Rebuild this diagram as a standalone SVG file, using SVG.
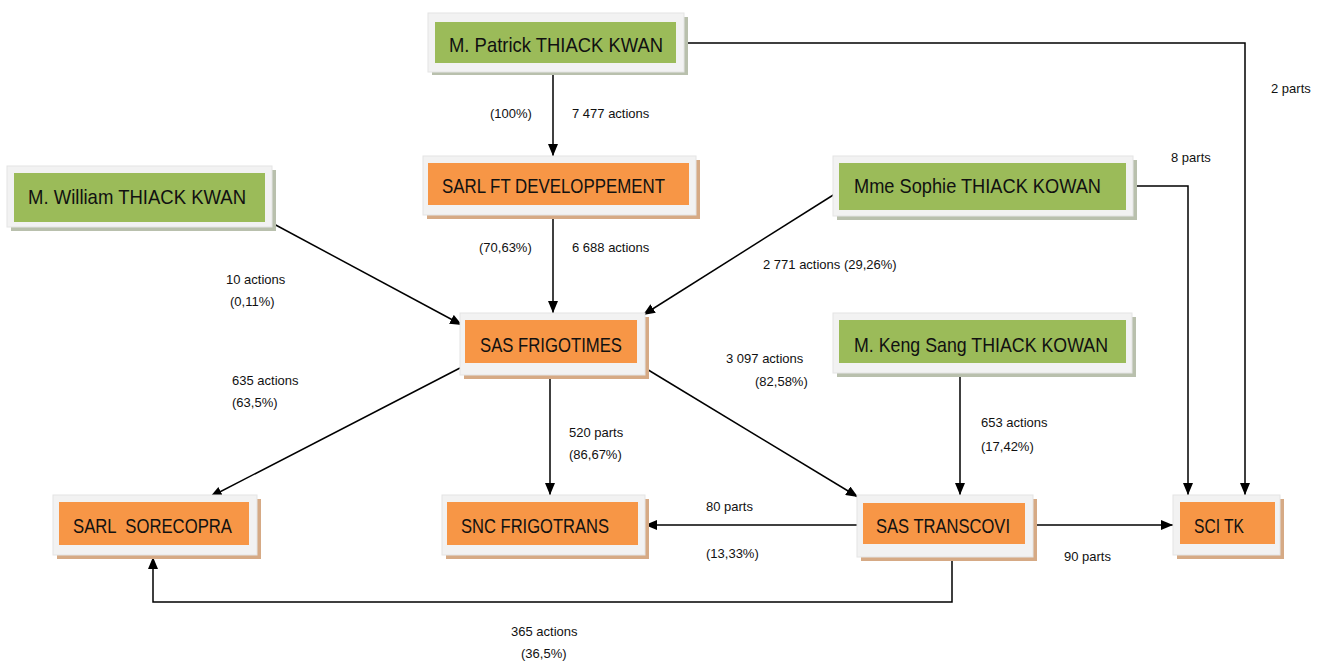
<svg xmlns="http://www.w3.org/2000/svg" width="1330" height="662" viewBox="0 0 1330 662">
<defs>
<marker id="ah" viewBox="0 0 12 10" refX="12" refY="5" markerWidth="12" markerHeight="10" markerUnits="userSpaceOnUse" orient="auto">
<path d="M0,0 L12,5 L0,10 Z" fill="#000"/>
</marker>
<style>
.frame{fill:#f2f2f2;stroke:#e4e4e4;stroke-width:1}
.shg{fill:#b9c0ad}
.sho{fill:#d6aa85}
.g{fill:#9bbb59}
.o{fill:#f79646}
.nt{font-family:"Liberation Sans",Arial,sans-serif;font-size:21px;fill:#111}
.lb{font-family:"Liberation Sans",Arial,sans-serif;font-size:13px;fill:#111}
.c{fill:none;stroke:#000;stroke-width:1.5}
.ca{fill:none;stroke:#000;stroke-width:1.5;marker-end:url(#ah)}
</style>
</defs>
<rect width="1330" height="662" fill="#fff"/>

<g id="connectors">
<path class="ca" d="M685,43 H1245 V495"/>
<path class="ca" d="M1133,186 H1188 V495"/>
<path class="ca" d="M553,72 V156"/>
<path class="ca" d="M553,215 V313"/>
<path class="ca" d="M272,223 L462,325"/>
<path class="ca" d="M838,192 L643,315"/>
<path class="ca" d="M460,368 L210,497"/>
<path class="ca" d="M550,375 V495"/>
<path class="ca" d="M645,368 L858,497"/>
<path class="ca" d="M960,373 V495"/>
<path class="ca" d="M857,525 H645"/>
<path class="ca" d="M1033,525 H1173"/>
<path class="ca" d="M952,557 V602 H153 V557"/>
<text class="lb" x="1271" y="93">2 parts</text>
<text class="lb" x="1171" y="162">8 parts</text>
<text class="lb" x="490" y="118">(100%)</text>
<text class="lb" x="572" y="118">7 477 actions</text>
<text class="lb" x="479" y="252">(70,63%)</text>
<text class="lb" x="572" y="252">6 688 actions</text>
<text class="lb" x="226" y="284">10 actions</text>
<text class="lb" x="230" y="306">(0,11%)</text>
<text class="lb" x="763" y="269">2 771 actions (29,26%)</text>
<text class="lb" x="232" y="385">635 actions</text>
<text class="lb" x="232" y="407">(63,5%)</text>
<text class="lb" x="569" y="437">520 parts</text>
<text class="lb" x="569" y="459">(86,67%)</text>
<text class="lb" x="726" y="363">3 097 actions</text>
<text class="lb" x="755" y="386">(82,58%)</text>
<text class="lb" x="981" y="427">653 actions</text>
<text class="lb" x="981" y="451">(17,42%)</text>
<text class="lb" x="706" y="511">80 parts</text>
<text class="lb" x="706" y="558">(13,33%)</text>
<text class="lb" x="1064" y="561">90 parts</text>
<text class="lb" x="511" y="636">365 actions</text>
<text class="lb" x="521" y="658">(36,5%)</text>
</g>

<g id="patrick">
<rect class="shg" x="432" y="17" width="256" height="58"/>
<rect class="frame" x="428" y="13" width="256" height="59"/>
<rect class="g" x="435" y="22" width="241" height="41"/>
<text class="nt" x="449" y="52" textLength="214" lengthAdjust="spacingAndGlyphs">M. Patrick THIACK KWAN</text>
</g>
<g id="william">
<rect class="shg" x="11" y="170" width="265" height="61"/>
<rect class="frame" x="7" y="166" width="265" height="61"/>
<rect class="g" x="14" y="173" width="251" height="49"/>
<text class="nt" x="28" y="204" textLength="218" lengthAdjust="spacingAndGlyphs">M. William THIACK KWAN</text>
</g>
<g id="sarlft">
<rect class="sho" x="427" y="160" width="273" height="59"/>
<rect class="frame" x="423" y="156" width="273" height="59"/>
<rect class="o" x="428" y="163" width="261" height="42"/>
<text class="nt" x="442" y="193" textLength="223" lengthAdjust="spacingAndGlyphs">SARL FT DEVELOPPEMENT</text>
</g>
<g id="sophie">
<rect class="shg" x="837" y="160" width="300" height="60"/>
<rect class="frame" x="833" y="156" width="300" height="60"/>
<rect class="g" x="839" y="163" width="287" height="47"/>
<text class="nt" x="854" y="193" textLength="247" lengthAdjust="spacingAndGlyphs">Mme Sophie THIACK KOWAN</text>
</g>
<g id="frigotimes">
<rect class="sho" x="464" y="317" width="185" height="62"/>
<rect class="frame" x="460" y="313" width="185" height="62"/>
<rect class="o" x="465" y="320" width="172" height="43"/>
<text class="nt" x="480" y="352" textLength="142" lengthAdjust="spacingAndGlyphs">SAS FRIGOTIMES</text>
</g>
<g id="kengsang">
<rect class="shg" x="837" y="317" width="299" height="60"/>
<rect class="frame" x="833" y="313" width="299" height="60"/>
<rect class="g" x="839" y="320" width="287" height="43"/>
<text class="nt" x="854" y="352" textLength="254" lengthAdjust="spacingAndGlyphs">M. Keng Sang THIACK KOWAN</text>
</g>
<g id="sorecopra">
<rect class="sho" x="57" y="499" width="204" height="60"/>
<rect class="frame" x="53" y="495" width="204" height="60"/>
<rect class="o" x="59" y="502" width="190" height="43"/>
<text class="nt" x="73" y="533" textLength="159" lengthAdjust="spacingAndGlyphs" style="white-space:pre">SARL  SORECOPRA</text>
</g>
<g id="frigotrans">
<rect class="sho" x="446" y="499" width="203" height="60"/>
<rect class="frame" x="442" y="495" width="203" height="60"/>
<rect class="o" x="447" y="502" width="191" height="43"/>
<text class="nt" x="461" y="533" textLength="148" lengthAdjust="spacingAndGlyphs">SNC FRIGOTRANS</text>
</g>
<g id="transcovi">
<rect class="sho" x="861" y="499" width="176" height="62"/>
<rect class="frame" x="857" y="495" width="176" height="62"/>
<rect class="o" x="863" y="503" width="162" height="41"/>
<text class="nt" x="876" y="533" textLength="134" lengthAdjust="spacingAndGlyphs">SAS TRANSCOVI</text>
</g>
<g id="scitk">
<rect class="sho" x="1177" y="499" width="107" height="60"/>
<rect class="frame" x="1173" y="495" width="107" height="60"/>
<rect class="o" x="1180" y="502" width="95" height="42"/>
<text class="nt" x="1194" y="533" textLength="50" lengthAdjust="spacingAndGlyphs">SCI TK</text>
</g>
</svg>
